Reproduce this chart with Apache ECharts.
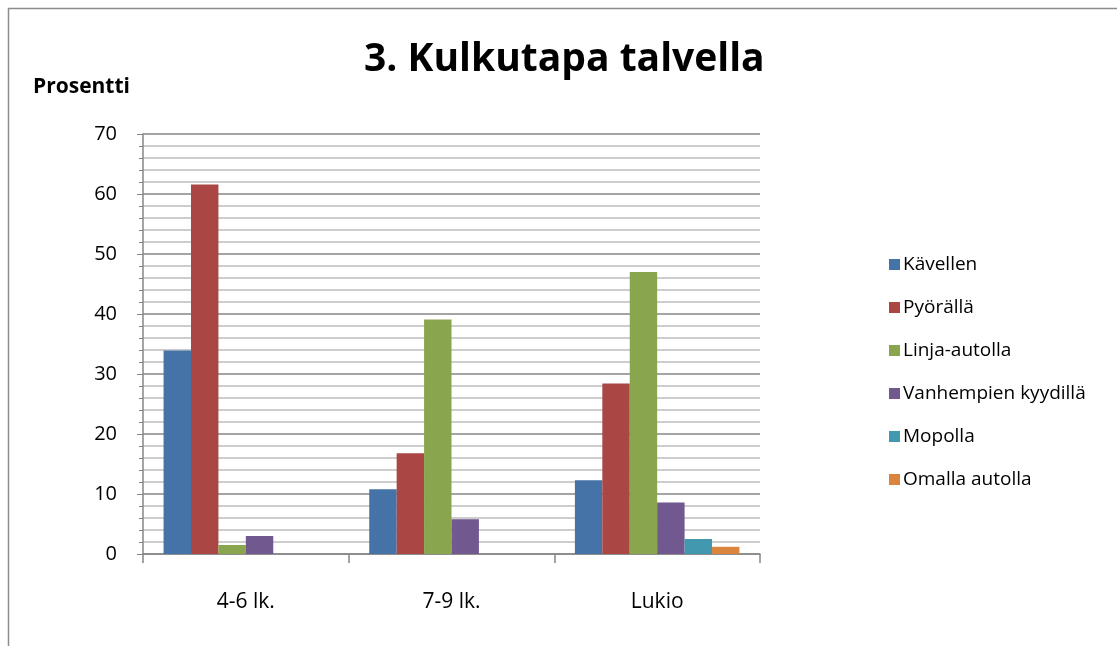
<!DOCTYPE html>
<html>
<head>
<meta charset="utf-8">
<script src="https://cdn.jsdelivr.net/npm/echarts@6/dist/echarts.min.js"></script>
<style>
  html, body { margin: 0; padding: 0; background: #fff; }
  #chart { width: 1117px; height: 646px; }
</style>
</head>
<body>
<div id="chart"></div>
<script>
// luokka-asteet
const categories = ['4-6 lk.', '7-9 lk.', 'Lukio']
const seriesNames = ['Kävellen', 'Pyörällä', 'Linja-autolla', 'Vanhempien kyydillä', 'Mopolla', 'Omalla autolla']
// prosentit per kulkutapa
const kavellen = [33.9, 10.8, 12.3]
const pyoralla = [61.6, 16.8, 28.4]
const linjaAutolla = [1.5, 39.1, 47.0]
const vanhempienKyydilla = [3.0, 5.8, 8.6]
const mopolla = [0, 0, 2.5]
const omallaAutolla = [0, 0, 1.2]
const yTicks = [0, 10, 20, 30, 40, 50, 60, 70]

const colors = ['#4572A7', '#AA4643', '#89A54E', '#71588F', '#4198AF', '#DB843D']
const values = [kavellen, pyoralla, linjaAutolla, vanhempienKyydilla, mopolla, omallaAutolla]
const font = 'Open Sans, Noto Sans, sans-serif'

const myChart = echarts.init(document.getElementById('chart'))

const option = {
  animation: false,
  color: colors,
  textStyle: { fontFamily: font },
  title: {
    text: '3. Kulkutapa talvella',
    left: 359,
    top: 35,
    textStyle: { fontSize: 39, fontWeight: 'bold', color: '#000', fontFamily: font }
  },
  graphic: [
    {
      type: 'rect',
      shape: { x: 8.5, y: 8.5, width: 1130, height: 660 },
      style: { fill: 'none', stroke: '#8c8c8c', lineWidth: 1.5 }
    }
  ],
  legend: {
    orient: 'vertical',
    left: 884,
    top: 250,
    itemWidth: 11,
    itemHeight: 11,
    itemGap: 24,
    icon: 'rect',
    textStyle: { fontSize: 19, color: '#000', padding: [0, 0, 0, -2] },
    data: seriesNames
  },
  grid: {
    left: 143,
    top: 134,
    width: 617,
    height: 420,
    containLabel: false
  },
  xAxis: {
    type: 'category',
    data: categories,
    axisLine: { lineStyle: { color: '#868686', width: 1.5 } },
    axisTick: { show: true, length: 9, lineStyle: { color: '#868686', width: 1.5 } },
    axisLabel: { fontSize: 21, color: '#000', margin: 38 },
    splitLine: { show: false }
  },
  yAxis: {
    type: 'value',
    name: 'Prosentti',
    nameLocation: 'end',
    nameGap: 36,
    nameTextStyle: { fontSize: 21, fontWeight: 'bold', color: '#000', align: 'left', padding: [0, 0, 0, -110] },
    min: yTicks[0],
    max: yTicks[yTicks.length - 1],
    interval: 10,
    axisLine: { show: true, lineStyle: { color: '#868686', width: 1.5 } },
    axisTick: { show: true, length: 6, lineStyle: { color: '#868686' } },
    axisLabel: { fontSize: 20, color: '#000', margin: 26 },
    splitLine: { lineStyle: { color: '#868686', width: 1.5 } },
    minorTick: { show: true, splitNumber: 5, length: 4, lineStyle: { color: '#868686' } },
    minorSplitLine: { show: true, lineStyle: { color: '#bdbdbd', width: 1.5 } }
  },
  series: seriesNames.map((name, i) => ({
    name,
    type: 'bar',
    data: values[i],
    barGap: '0%',
    barCategoryGap: '20%',
    itemStyle: { color: colors[i] }
  }))
}

myChart.setOption(option)
</script>
</body>
</html>
